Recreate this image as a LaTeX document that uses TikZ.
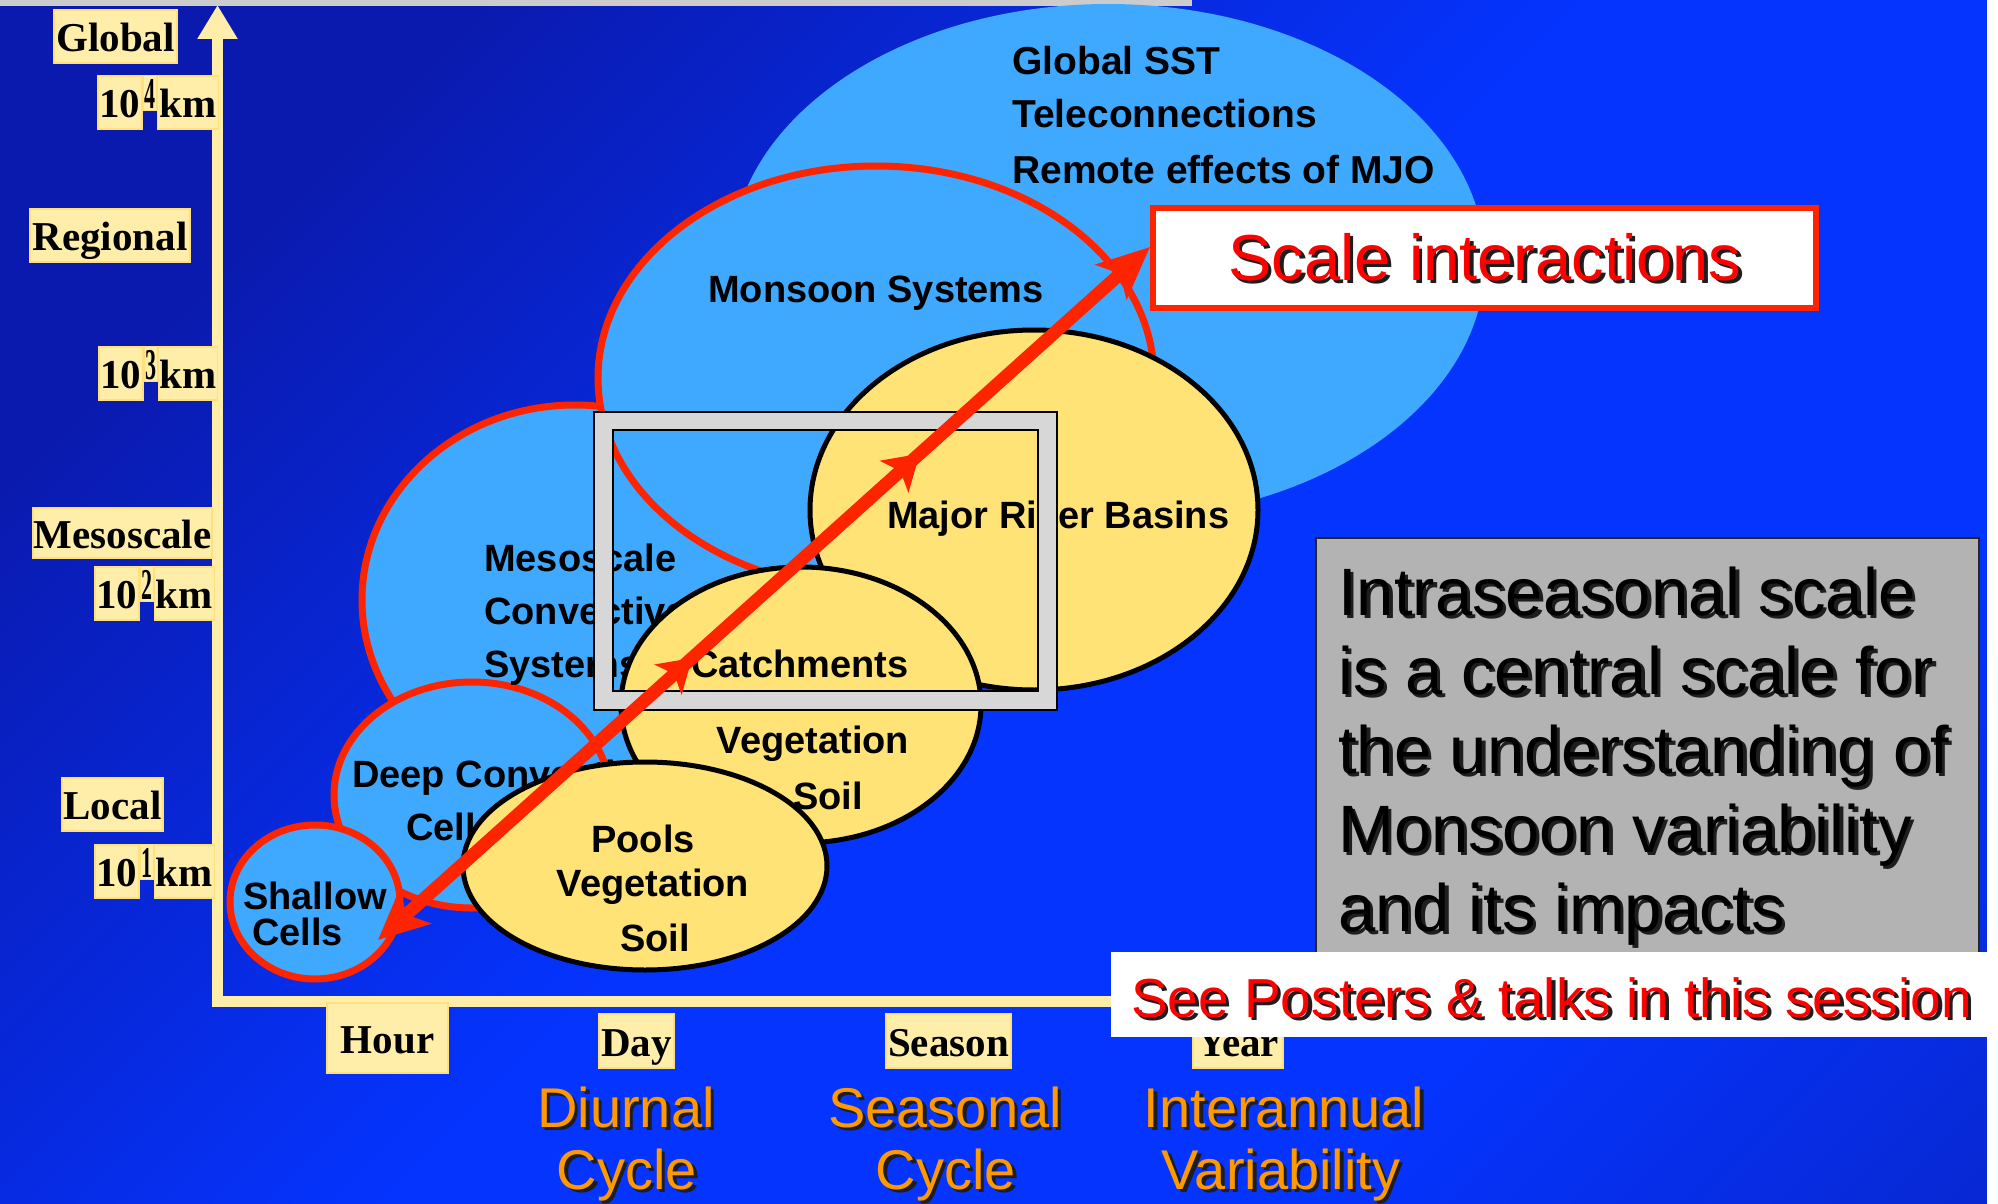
\documentclass[tikz,border=0pt]{standalone}
\usepackage{fontspec}
\setmainfont{Liberation Serif}
\setsansfont{Liberation Sans}
\usepackage{graphicx}
\usetikzlibrary{shapes.geometric,arrows.meta,decorations.markings}

\definecolor{bgdark}{HTML}{0A1AAE}
\definecolor{bgbright}{HTML}{0534FF}
\definecolor{bgend}{HTML}{0A1CA8}
\definecolor{topgrey}{HTML}{CCCCCC}
\definecolor{skyfill}{HTML}{3FA9FF}
\definecolor{sandfill}{HTML}{FFE377}
\definecolor{rimred}{HTML}{FF2400}
\definecolor{creamfill}{HTML}{FFEDAA}
\definecolor{creamedge}{HTML}{FFE07A}
\definecolor{framegrey}{HTML}{D7D7D7}
\definecolor{notegrey}{HTML}{B3B3B3}
\definecolor{orangetxt}{HTML}{FF9900}
\definecolor{shadowc}{HTML}{1E1E1E}

\pgfdeclarehorizontalshading{backdrop}{100bp}{color(0bp)=(bgdark); color(25bp)=(bgdark); color(50bp)=(bgbright); color(70bp)=(bgbright); color(100bp)=(bgend)}

\newcommand{\pxsize}[1]{\fontsize{#1pt}{#1pt}\selectfont}
\newcommand{\shadowed}[2][shadowc]{\leavevmode\rlap{\kern3.5pt\raisebox{-3.5pt}{\textcolor{#1}{#2}}}#2}

\begin{document}
\begin{tikzpicture}[x=1pt, y=-1pt,
  blob/.style={ellipse, inner sep=0pt, outer sep=0pt},
  skyblob/.style={blob, fill=skyfill},
  redblob/.style={blob, fill=skyfill, draw=rimred, line width=7pt},
  sandblob/.style={blob, fill=sandfill, draw=black, line width=5pt},
  blobtxt/.style={font=\sffamily\bfseries\pxsize{38}, text=black, inner sep=0pt, anchor=base west},
  blobtxtc/.style={blobtxt, anchor=base},
  cream/.style={fill=creamfill, draw=creamedge, line width=1.5pt, font=\rmfamily\bfseries\pxsize{41}, text=black,
    text height=36pt, text depth=6pt, inner xsep=0pt, inner ysep=0pt, minimum height=53pt},
  tens/.style={cream, anchor=west, minimum width=44pt},
  kms/.style={cream, anchor=west},
  creamsup/.style={fill=creamfill, draw=creamedge, line width=1.2pt, font=\rmfamily\bfseries\pxsize{44}, text=black,
    text height=31pt, text depth=0pt, inner sep=0pt, minimum height=35pt, minimum width=13pt, anchor=north west},
  axisbar/.style={draw=creamfill, line width=11pt, line join=miter, -{Triangle[length=34pt,width=38pt]}},
  cyclename/.style={font=\sffamily\pxsize{56}, text=orangetxt, inner sep=0pt, anchor=base},
  notetxt/.style={font=\sffamily\pxsize{67}, text=black, inner sep=0pt, anchor=base west},
  scalearrow/.style={draw=rimred, color=rimred, line width=13pt,
    {Stealth[length=50pt,width=46pt,inset=12pt]}-{Stealth[length=52pt,width=46pt,inset=12pt]},
    postaction={decorate},
    decoration={markings,
      mark=at position 0.407 with {\arrow[rimred]{Stealth[length=32pt,width=40pt,inset=8pt]}},
      mark=at position 0.702 with {\arrow[rimred]{Stealth[length=34pt,width=42pt,inset=8pt]}}}}
]
\useasboundingbox (0,0) rectangle (1998,1204);

% backdrop
\shade[shading=backdrop, shading angle=-45] (0,0) rectangle (1998,1204);
\fill[topgrey] (0,0) rectangle (1192,6);

% axes
\coordinate (origin) at (217.5,1001);
\coordinate (xend) at (1120,1001);
\coordinate (ytip) at (217.5,5);
\draw[axisbar] (xend) -- (origin) -- (ytip);

% vertical scale labels
\node[cream, minimum width=123pt] (lblglobal) at (115.5,36.5) {Global};
\node[cream, minimum width=160pt] (lblregional) at (110,235.5) {Regional};
\node[cream, minimum width=179pt, minimum height=50pt] (lblmeso) at (122.5,533) {Mesoscale};
\node[cream, minimum width=101pt] (lbllocal) at (112.5,804.5) {Local};

\node[tens] (tenA) at (97,102.5) {10};
\node[creamsup] (supA) at (tenA.north east) {\scalebox{0.5}[1]{4}};
\node[kms, minimum width=61pt] (kmA) at (supA.east |- tenA.east) {km};

\node[tens] (tenB) at (98,373.5) {10};
\node[creamsup] (supB) at (tenB.north east) {\scalebox{0.5}[1]{3}};
\node[kms, minimum width=59pt] (kmB) at (supB.east |- tenB.east) {km};

\node[tens] (tenC) at (94,593.5) {10};
\node[creamsup] (supC) at (tenC.north east) {\scalebox{0.5}[1]{2}};
\node[kms, minimum width=60pt] (kmC) at (supC.east |- tenC.east) {km};

\node[tens] (tenD) at (94,871.5) {10};
\node[creamsup] (supD) at (tenD.north east) {\scalebox{0.5}[1]{1}};
\node[kms, minimum width=60pt] (kmD) at (supD.east |- tenD.east) {km};

% horizontal scale labels
\node[cream, minimum width=121pt, minimum height=70pt] (lblhour) at (387.5,1038) {Hour};
\node[cream, minimum width=75pt, minimum height=54pt] (lblday) at (636.5,1041) {Day};
\node[cream, minimum width=125pt, minimum height=54pt] (lblseason) at (948.5,1041) {Season};
\node[cream, minimum width=90pt, minimum height=54pt] (lblyear) at (1238,1041) {Year};

\node[cyclename] (diurnalA) at (626,1127) {\shadowed{Diurnal}};
\node[cyclename] (diurnalB) at (627,1189) {\shadowed{Cycle}};
\node[cyclename] (seasonalA) at (945,1127) {\shadowed{Seasonal}};
\node[cyclename] (seasonalB) at (946,1189) {\shadowed{Cycle}};
\node[cyclename] (interA) at (1284,1127) {\shadowed{Interannual}};
\node[cyclename] (interB) at (1281,1189) {\shadowed{Variability}};

% process domains
\node[skyblob, minimum width=754pt, minimum height=516pt] (globalzone) at (1108,262) {};
\node[redblob, minimum width=426pt, minimum height=390pt] (mesozone) at (575,600) {};
\node[redblob, minimum width=556pt, minimum height=424pt] (monsoonzone) at (876,378) {};
\node[redblob, minimum width=276pt, minimum height=226pt] (deepzone) at (472,795) {};
\node[redblob, minimum width=170pt, minimum height=154pt] (shallowzone) at (315,902) {};
\node[sandblob, minimum width=448pt, minimum height=360pt] (riverzone) at (1034,510) {};

\node[blobtxt, font=\sffamily\bfseries\pxsize{39}] (sstA) at (1012,75) {Global SST};
\node[blobtxt, font=\sffamily\bfseries\pxsize{39}] (sstB) at (1012,128) {Teleconnections};
\node[blobtxt, font=\sffamily\bfseries\pxsize{39}] (sstC) at (1012,183) {Remote effects of MJO};
\node[blobtxt] (monsoontxt) at (708,302) {Monsoon Systems};
\node[blobtxt] (mesoA) at (484,571) {Mesoscale};
\node[blobtxt] (mesoB) at (484,624) {Convective};
\node[blobtxt] (mesoC) at (484,677) {Systems};
\node[blobtxt] (deepA) at (352,787) {Deep Convective};
\node[blobtxt] (deepB) at (406,840) {Cells};
\node[blobtxt] (shallowA) at (243,909) {Shallow};
\node[blobtxt] (shallowB) at (252,945) {Cells};
\node[blobtxt] (rivertxt) at (887,528) {Major River Basins};

\node[sandblob, minimum width=360pt, minimum height=276pt] (catchzone) at (801,705) {};
\node[blobtxtc] (catchA) at (800,677) {Catchments};
\node[blobtxtc] (catchB) at (813,753) {Vegetation};
\node[blobtxtc] (catchC) at (828,809) {Soil};

% intraseasonal window
\node[draw=black, line width=1.8pt, double=framegrey, double distance=16.5pt,
      minimum width=444pt, minimum height=279.5pt, inner sep=0pt] (window) at (825.5,560.75) {};

\node[sandblob, minimum width=364pt, minimum height=208pt] (poolzone) at (645,866) {};
\node[blobtxtc] (poolA) at (643,852) {Pools};
\node[blobtxtc] (poolB) at (653,896) {Vegetation};
\node[blobtxtc] (poolC) at (655,951) {Soil};

% scale interaction arrow
\node[draw=rimred, line width=6pt, fill=white, minimum width=663pt, minimum height=100pt, inner sep=0pt] (scalebox) at (1484.5,258) {};
\node[font=\sffamily\pxsize{65}, text=red, inner sep=0pt, anchor=base] (scaletxt) at (1485,280) {\shadowed{Scale interactions}};
\coordinate (arrlow) at (378,940);
\coordinate (arrhigh) at (1150,247);
\draw[scalearrow] (arrlow) -- (arrhigh);

% statement box
\node[draw=black!85, line width=1.5pt, fill=notegrey, minimum width=663pt, minimum height=421pt, inner sep=0pt, anchor=north west] (notebox) at (1315,537) {};
\node[notetxt] (noteA) at (1338,615) {\shadowed{Intraseasonal scale}};
\node[notetxt] (noteB) at (1338,694) {\shadowed{is a central scale for}};
\node[notetxt] (noteC) at (1338,773) {\shadowed{the understanding of}};
\node[notetxt] (noteD) at (1338,852) {\shadowed{Monsoon variability}};
\node[notetxt] (noteE) at (1338,931) {\shadowed{and its impacts}};

\node[fill=white, minimum width=876pt, minimum height=85pt, inner sep=0pt, anchor=north west] (sessionbox) at (1111,952) {};
\node[font=\sffamily\pxsize{55}, text=red, inner sep=0pt, anchor=base west] (sessiontxt) at (1131,1017) {\shadowed{See Posters \& talks in this session}};

\fill[white] (1987,0) rectangle (1998,1204);
\end{tikzpicture}
\end{document}
